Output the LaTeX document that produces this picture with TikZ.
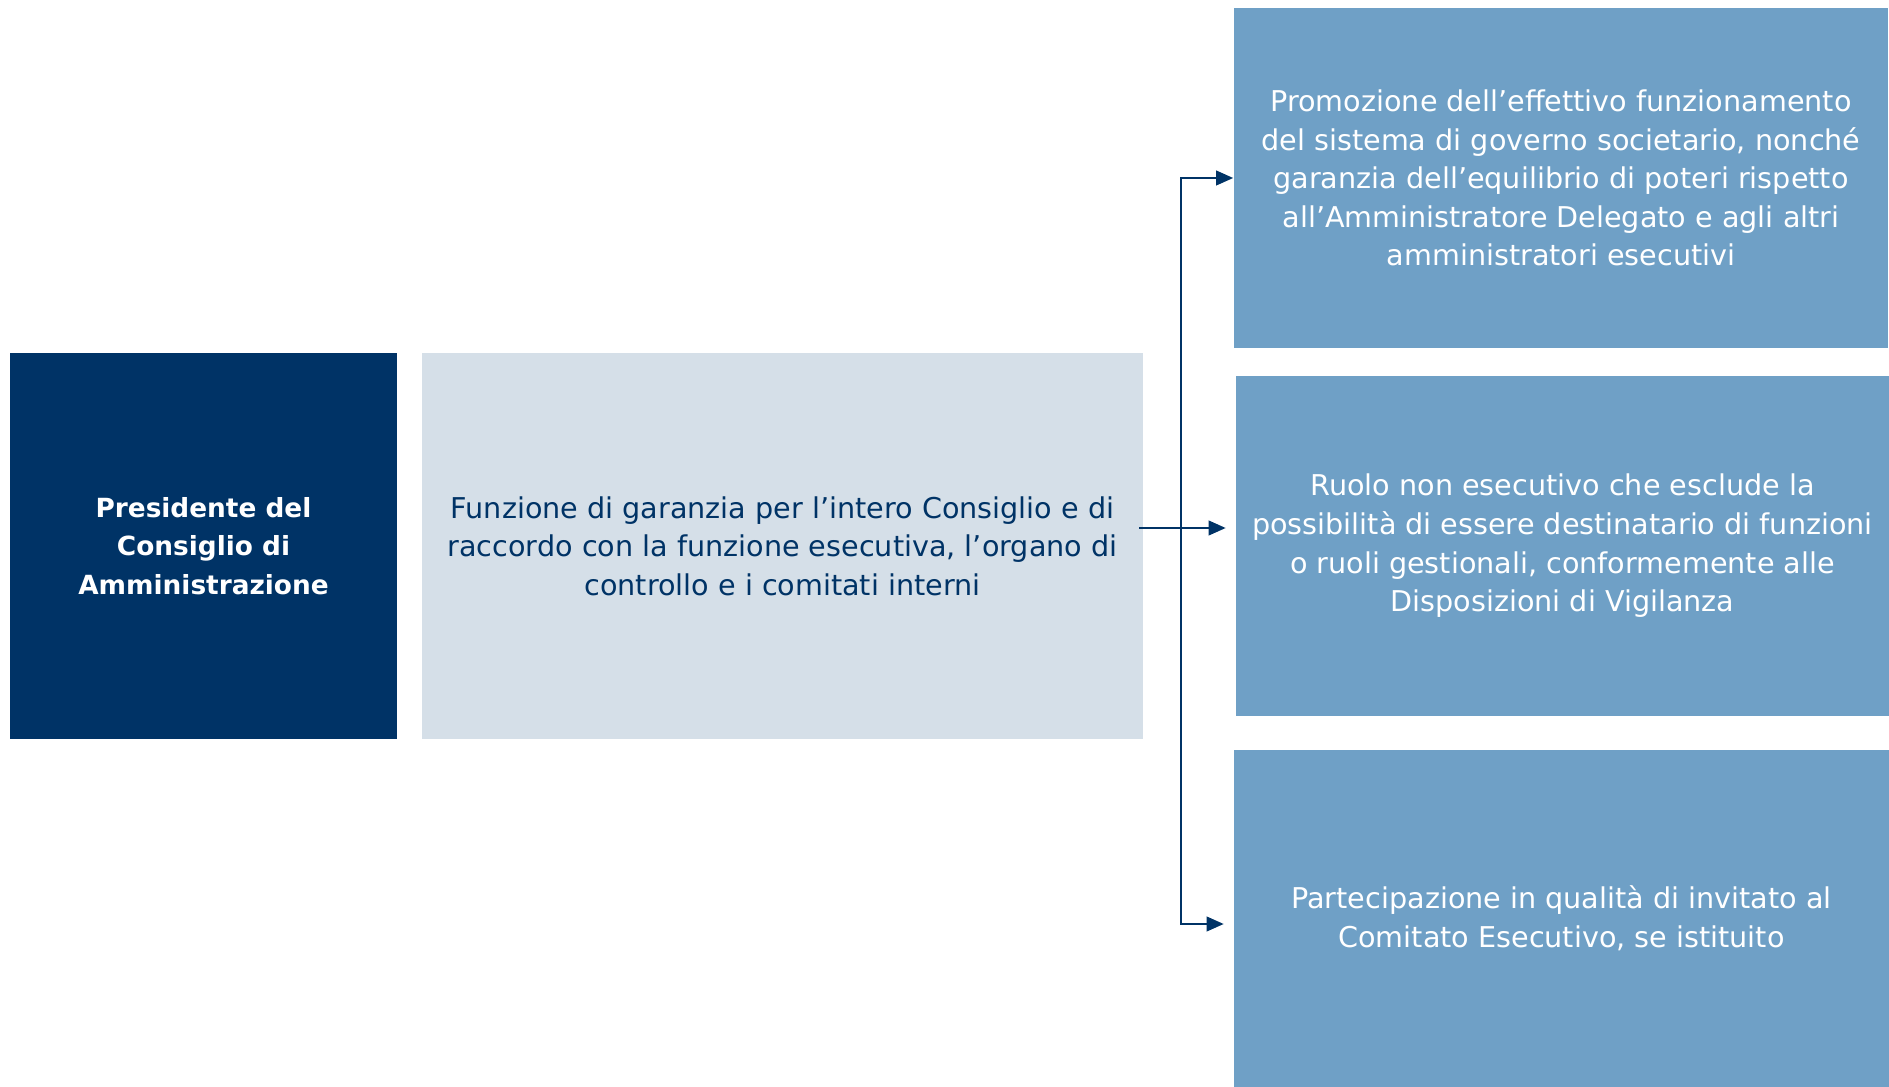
\documentclass[tikz,border=0pt]{standalone}
\usepackage{fontspec}
\setmainfont{DejaVu Sans}
\usetikzlibrary{positioning,calc,arrows.meta}
\definecolor{navy}{HTML}{003366}
\definecolor{paleblue}{HTML}{D5DFE8}
\definecolor{midblue}{HTML}{6FA0C6}

\begin{document}
\begin{tikzpicture}[x=0.02cm,y=-0.02cm,
                    >={Triangle[length=0.34cm,width=0.29cm]},
                    box/.style={rectangle,inner sep=0pt,align=center,
                                font=\fontsize{16.3}{22}\selectfont},
                    pres/.style={box,fill=navy,text=white,
                                 font=\fontsize{15}{22}\selectfont\bfseries,
                                 minimum width=7.74cm,minimum height=7.72cm},
                    descr/.style={box,fill=paleblue,text=navy,
                                  minimum width=14.42cm,minimum height=7.72cm},
                    role/.style={box,fill=midblue,text=white,
                                 minimum width=13.1cm,minimum height=6.8cm},
                    link/.style={draw=navy,line width=1.3pt}]
    \useasboundingbox (0,0) rectangle (1889,1087);

    %Nodes
        \node[pres] (pres) at (203.5,546) {Presidente del\\Consiglio di\\Amministrazione};
        \node[descr] (descr) at (782.5,546) {Funzione di garanzia per l’intero Consiglio e di\\raccordo con la funzione esecutiva, l’organo di\\controllo e i comitati interni};
        \node[role] (top) at (1561,178) {Promozione dell’effettivo funzionamento\\del sistema di governo societario, nonché\\garanzia dell’equilibrio di poteri rispetto\\all’Amministratore Delegato e agli altri\\amministratori esecutivi};
        \node[role,minimum width=13.06cm] (mid) at (1562.5,546) {Ruolo non esecutivo che esclude la\\possibilità di essere destinatario di funzioni\\o ruoli gestionali, conformemente alle\\Disposizioni di Vigilanza};
        \node[role,minimum height=6.74cm] (bot) at (1561.5,918.5) {Partecipazione in qualità di invitato al\\Comitato Esecutivo, se istituito};
        \coordinate (spine) at (1181,528);

    %Lines
        \draw[link,->] ([xshift=-0.08cm]descr.east |- spine) -- ([xshift=-0.2cm]mid.west |- spine);
        \draw[link,->] (spine) |- (top.west);
        \draw[link,->] (spine) |- ([xshift=-0.2cm,yshift=-0.11cm]bot.west);
\end{tikzpicture}
\end{document}
